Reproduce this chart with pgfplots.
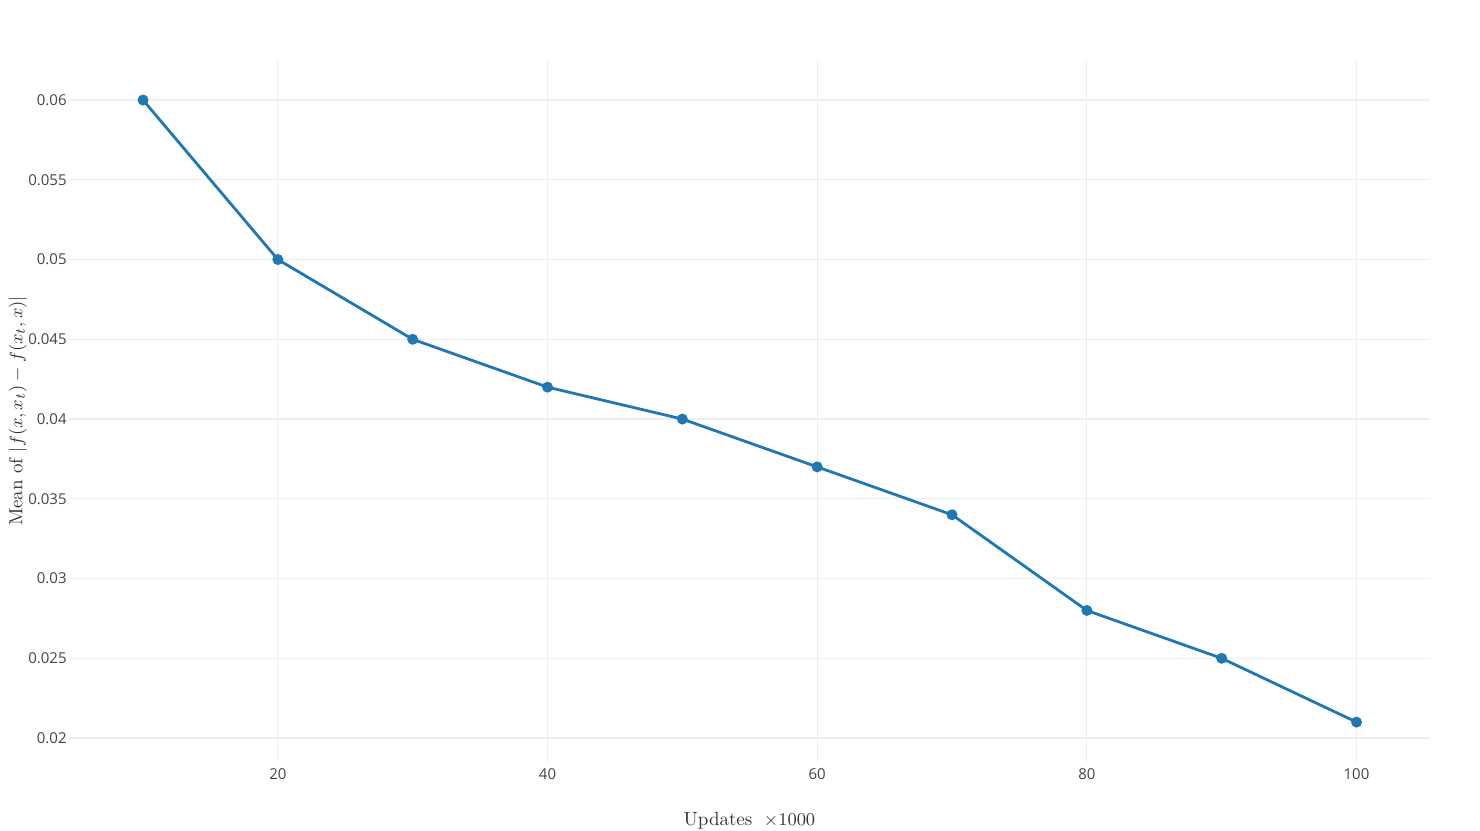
\documentclass[border=0pt]{standalone}
\usepackage{pgfplots}
\pgfplotsset{compat=1.18}
\usepackage{fontspec}
\newfontfamily\tickfont{Open Sans}
\definecolor{plotblue}{HTML}{1F77B4}
\definecolor{ticktext}{HTML}{444444}
\definecolor{gridgray}{HTML}{EEEEEE}
\begin{document}
\begin{tikzpicture}
\useasboundingbox (-34.5pt,-34.5pt) rectangle (705.5pt,381pt);
\begin{axis}[
    at={(0,0)}, anchor=south west,
    scale only axis,
    width=680.5pt, height=351pt,
    xmin=4.51, xmax=105.45,
    ymin=0.0185, ymax=0.06251,
    axis line style={draw=none},
    major tick length=0pt,
    grid=major,
    major grid style={gridgray, line width=0.6pt},
    xtick={20,40,60,80,100},
    ytick={0.02,0.025,0.03,0.035,0.04,0.045,0.05,0.055,0.06},
    yticklabels={0.02,0.025,0.03,0.035,0.04,0.045,0.05,0.055,0.06},
    scaled y ticks=false,
    /pgf/number format/assume math mode=true,
    tick label style={font=\tickfont\fontsize{7.5}{9}\selectfont, text=ticktext, inner sep=0pt},
    xticklabel style={anchor=north, yshift=-3pt},
    yticklabel style={anchor=east, xshift=-1pt},
    label style={font=\fontsize{9.5}{11.5}\selectfont, text=black!80},
    xlabel={Updates~$\;\times 1000$},
    xlabel style={at={(rel axis cs:0.5,0)}, anchor=base, yshift=-31.5pt},
    ylabel={Mean of $|f(x,x_t)-f(x_t,x)|$},
    ylabel style={at={(rel axis cs:0,0.5)}, anchor=center, yshift=25.5pt},
]
\addplot[plotblue, line width=1.4pt, mark=*, mark size=2pt, mark options={fill=plotblue, draw=plotblue}]
coordinates {
    (10,0.060) (20,0.050) (30,0.045) (40,0.042) (50,0.040)
    (60,0.037) (70,0.034) (80,0.028) (90,0.025) (100,0.021)
};
\end{axis}
\end{tikzpicture}
\end{document}
